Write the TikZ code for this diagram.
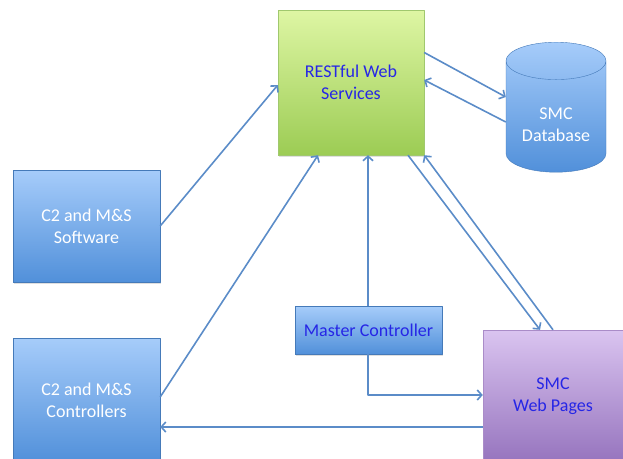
\documentclass[tikz,border=0pt]{standalone}
\usepackage{fontspec}
\setmainfont{Carlito}
\usetikzlibrary{arrows.meta, shapes.geometric, shadows}
\definecolor{linkblue}{HTML}{5B8CC8}
\definecolor{txtblue}{HTML}{2626E6}
\definecolor{blueTop}{HTML}{A6CCFA}
\definecolor{blueBot}{HTML}{5190DA}
\definecolor{greenTop}{RGB}{222,246,164}
\definecolor{greenBot}{RGB}{156,204,84}
\definecolor{greenEdge}{RGB}{160,200,110}
\definecolor{violetTop}{RGB}{218,196,240}
\definecolor{violetBot}{RGB}{150,116,190}
\definecolor{violetEdge}{RGB}{170,140,200}
\begin{document}
\begin{tikzpicture}[x=1pt, y=-1pt, >={Straight Barb[length=4.5pt, width=10pt]}, line join=round, font=\fontsize{18}{22}\selectfont]
	\tikzset{
		box/.style={rectangle, draw=#1, line width=0.4pt, align=center, drop shadow={opacity=0.25, shadow xshift=1.2pt, shadow yshift=-1.5pt}},
		bluebox/.style={box=blueBot!85!black, top color=blueTop, bottom color=blueBot, text=white},
		link/.style={draw=linkblue, line width=1.6pt, ->},
	}
	\useasboundingbox (0,0) rectangle (623,458);
	% boxes
	\node [box=greenEdge, top color=greenTop, bottom color=greenBot, text=txtblue, minimum width=146pt, minimum height=145pt] (rest) at (351,82.5) {RESTful Web\\Services};
	\node [shape=cylinder, shape border rotate=90, aspect=0.5, draw=blueBot!85!black, line width=0.4pt, top color=blueTop, bottom color=blueBot, text=white, minimum width=100pt, minimum height=130pt, align=center] (db) at (556,120) {\\SMC\\Database};
	\node [bluebox, minimum width=147pt, minimum height=112pt] (sw) at (86.5,226) {C2 and M\&S\\Software};
	\node [bluebox, minimum width=147pt, minimum height=124pt] (ctl) at (86.5,400) {C2 and M\&S\\Controllers};
	\node [bluebox, text=txtblue, minimum width=147pt, minimum height=48pt] (mc) at (368.5,330) {Master Controller};
	\node [box=violetEdge, top color=violetTop, bottom color=violetBot, text=txtblue, minimum width=140pt, minimum height=132pt] (wp) at (553,396) {SMC\\Web Pages};
	% connectors
	\draw [link] (sw.east) -- ([yshift=-2.5pt]rest.west);
	\draw [link] ([yshift=3pt]ctl.east) -- ([xshift=-33pt]rest.south);
	\draw [link] ([xshift=-0.5pt]mc.north) -- ([xshift=17pt]rest.south);
	\draw [link] ([yshift=30pt]rest.east) -- ([yshift=23pt]db.west);
	\draw [link] ([yshift=-2pt]db.west) -- ([yshift=2.5pt]rest.east);
	\draw [link] ([xshift=57pt]rest.south) -- ([xshift=-13pt]wp.north);
	\draw [link] (wp.north) -- (rest.south east);
	\draw [link] ([xshift=-0.5pt]mc.south) |- ([yshift=1pt]wp.west);
	\draw [link] ([yshift=-31pt]wp.west) -- ([yshift=-27pt]ctl.east);
\end{tikzpicture}
\end{document}
